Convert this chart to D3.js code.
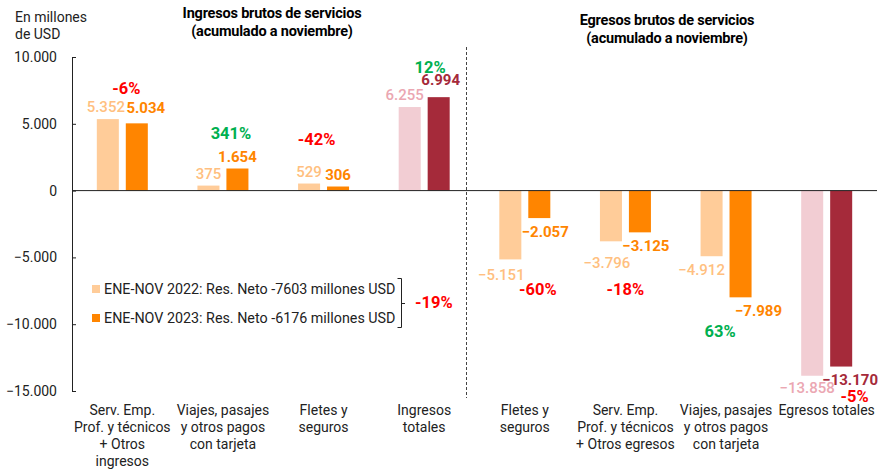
<!DOCTYPE html>
<html>
<head>
<meta charset="utf-8">
<script src="https://cdn.jsdelivr.net/npm/d3@7"></script>
<style>
    body { margin: 0; background: #fff; }
    text { font-family: Roboto, "Noto Sans", sans-serif; }
</style>
</head>
<body>
<div id="chart"></div>
<script>
// categorias (ingresos primero, despues egresos)
var categories = [
    "Serv. Emp.\nProf. y técnicos\n+ Otros\ningresos",
    "Viajes, pasajes\ny otros pagos\ncon tarjeta",
    "Fletes y\nseguros",
    "Ingresos\ntotales",
    "Fletes y\nseguros",
    "Serv. Emp.\nProf. y técnicos\n+ Otros egresos",
    "Viajes, pasajes\ny otros pagos\ncon tarjeta",
    "Egresos totales"
];
var values2022 = [5352, 375, 529, 6255, -5151, -3796, -4912, -13858];
var values2023 = [5034, 1654, 306, 6994, -2057, -3125, -7989, -13170];
var totalIndex = [3, 7];
var yTicks = [10000, 5000, 0, -5000, -10000, -15000];
var seriesNames = ["ENE-NOV 2022", "ENE-NOV 2023"];
var sectionTitles = ["Ingresos brutos de servicios", "Egresos brutos de servicios"];
var subTitle = "(acumulado a noviembre)";
var unitLabel = ["En millones", "de USD"];

// ajustes manuales de las etiquetas (dx, dy) para que no se tapen
var valueNudge = [
    [[-2, 0], [9, -3]], [[0, 0], [0, 0]], [[0, 0], [0, 0]], [[-5, 0], [2, -5]],
    [[-9, 2], [6, 0]], [[-4, 8], [6, 0]], [[-10, 0], [18, 0]], [[-5, -2], [9, -1]]
];
var pctNudge = [[4, 2], [8, -3], [-7, -12], [6, 8], [13, -5], [0, 7], [-6, 1], [28, -11]];

var width = 878, height = 470;
var colors = {
    light: "#FFCC99", dark: "#FF8500",
    lightText: "#FFBF80", darkText: "#FF8500",
    totLight: "#F2CDD3", totDark: "#A52A3A",
    totLightText: "#EBA7B2", totDarkText: "#A52A3A",
    up: "#00B050", down: "#FF0000"
};

var es = d3.formatLocale({decimal: ",", thousands: ".", grouping: [3], currency: ["", ""]});
var fmt = es.format(",d");

var svg = d3.select("#chart").append("svg")
    .attr("width", width)
    .attr("height", height);

var x = d3.scaleBand()
    .domain(d3.range(categories.length))
    .range([72, 877]);

var xSub = d3.scaleBand()
    .domain([0, 1])
    .range([0, 51])
    .paddingInner(0.24);

var y = d3.scaleLinear()
    .domain([-15000, 10000])
    .range([391, 57]);

function isTotal(i) { return totalIndex.indexOf(i) >= 0; }
function groupLeft(i) { return x(i) + x.bandwidth() / 2 - 25.5; }
function barCenter(i, s) { return groupLeft(i) + xSub(s) + xSub.bandwidth() / 2; }

var rows = [];
categories.forEach(function (c, i) {
    rows.push({i: i, s: 0, v: values2022[i]});
    rows.push({i: i, s: 1, v: values2023[i]});
});

// eje y
var yAxis = d3.axisLeft(y)
    .tickValues(yTicks)
    .tickFormat(fmt)
    .tickSizeInner(-4)
    .tickSizeOuter(0)
    .tickPadding(15);

var gy = svg.append("g")
    .attr("transform", "translate(72,0)")
    .call(yAxis);
gy.select(".domain").attr("stroke", "#222");
gy.selectAll(".tick line").attr("stroke", "#222");
gy.selectAll(".tick text")
    .attr("fill", "#222")
    .style("font-size", "14px");

// barras
svg.selectAll("rect.bar")
    .data(rows)
    .enter()
    .append("rect")
    .attr("class", "bar")
    .attr("x", function (d) { return groupLeft(d.i) + xSub(d.s); })
    .attr("width", xSub.bandwidth())
    .attr("y", function (d) { return y(Math.max(0, d.v)); })
    .attr("height", function (d) { return Math.abs(y(d.v) - y(0)); })
    .attr("fill", function (d) {
        if (isTotal(d.i)) return d.s === 0 ? colors.totLight : colors.totDark;
        return d.s === 0 ? colors.light : colors.dark;
    });

// linea de cero
svg.append("line")
    .attr("x1", 72).attr("x2", 877)
    .attr("y1", y(0)).attr("y2", y(0))
    .attr("stroke", "#222")
    .attr("stroke-width", 1);

// separador punteado entre ingresos y egresos
svg.append("line")
    .attr("x1", 466.5).attr("x2", 466.5)
    .attr("y1", 47).attr("y2", 398)
    .attr("stroke", "#444")
    .attr("stroke-width", 1)
    .attr("stroke-dasharray", "3,2");

// etiquetas de valor
function labelY(d) {
    return d.v >= 0 ? y(d.v) - 7 : y(d.v) + 19;
}
svg.selectAll("text.value")
    .data(rows)
    .enter()
    .append("text")
    .attr("class", "value")
    .attr("x", function (d) { return barCenter(d.i, d.s) + valueNudge[d.i][d.s][0]; })
    .attr("y", function (d) { return labelY(d) + valueNudge[d.i][d.s][1]; })
    .attr("text-anchor", "middle")
    .style("font-size", "15px")
    .style("font-weight", function (d) { return d.s === 0 ? "500" : "bold"; })
    .attr("fill", function (d) {
        if (isTotal(d.i)) return d.s === 0 ? colors.totLightText : colors.totDarkText;
        return d.s === 0 ? colors.lightText : colors.darkText;
    })
    .text(function (d) { return fmt(d.v); });

// variacion porcentual
categories.forEach(function (c, i) {
    var a = values2022[i], b = values2023[i];
    var pct = Math.round((b / a - 1) * 100);
    var ya = labelY({v: a}) + valueNudge[i][0][1];
    var yb = labelY({v: b}) + valueNudge[i][1][1];
    var py = a >= 0 ? Math.min(ya, yb) - 20 : Math.max(ya, yb) + 20;
    svg.append("text")
        .attr("x", x(i) + x.bandwidth() / 2 + pctNudge[i][0])
        .attr("y", py + pctNudge[i][1])
        .attr("text-anchor", "middle")
        .style("font-size", "16.5px")
        .style("font-weight", "bold")
        .attr("fill", pct >= 0 ? colors.up : colors.down)
        .text(pct + "%");
});

// etiquetas eje x
categories.forEach(function (c, i) {
    var t = svg.append("text")
        .attr("text-anchor", "middle")
        .attr("fill", "#222")
        .style("font-size", "14px");
    c.split("\n").forEach(function (line, k) {
        t.append("tspan")
            .attr("x", x(i) + x.bandwidth() / 2)
            .attr("y", 415 + k * 17)
            .text(line);
    });
});

// titulos
var titleX = [272, 667], titleY = [18, 25];
sectionTitles.forEach(function (tt, k) {
    svg.append("text")
        .attr("x", titleX[k]).attr("y", titleY[k])
        .attr("text-anchor", "middle")
        .style("font-size", "14.5px")
        .style("font-weight", "bold")
        .style("letter-spacing", "-0.2px")
        .attr("fill", "#000")
        .text(tt);
    svg.append("text")
        .attr("x", titleX[k]).attr("y", titleY[k] + 18)
        .attr("text-anchor", "middle")
        .style("font-size", "14.5px")
        .style("font-weight", "bold")
        .style("letter-spacing", "-0.2px")
        .attr("fill", "#000")
        .text(subTitle);
});

unitLabel.forEach(function (u, k) {
    svg.append("text")
        .attr("x", 15).attr("y", 22 + k * 17)
        .style("font-size", "14px")
        .attr("fill", "#222")
        .text(u);
});

// leyenda con resultado neto
var net2022 = values2022[3] + values2022[7];
var net2023 = values2023[3] + values2023[7];
var netPct = Math.round((net2023 / net2022 - 1) * 100);
var legend = [
    {name: seriesNames[0], net: net2022, color: colors.light},
    {name: seriesNames[1], net: net2023, color: colors.dark}
];
legend.forEach(function (l, k) {
    var ly = 289 + k * 29;
    svg.append("rect")
        .attr("x", 92).attr("y", ly - 4)
        .attr("width", 8).attr("height", 8)
        .attr("fill", l.color);
    svg.append("text")
        .attr("x", 104).attr("y", ly + 5)
        .style("font-size", "14.3px")
        .attr("fill", "#222")
        .text(l.name + ": Res. Neto " + l.net + " millones USD");
});

// llave
svg.append("path")
    .attr("d", "M397.5,278.5H401.5V327.5H397.5M401.5,303.5H405")
    .attr("fill", "none")
    .attr("stroke", "#222")
    .attr("stroke-width", 1);

svg.append("text")
    .attr("x", 415).attr("y", 308)
    .style("font-size", "16.5px")
    .style("font-weight", "bold")
    .attr("fill", netPct >= 0 ? colors.up : colors.down)
    .text(netPct + "%");
</script>
</body>
</html>
